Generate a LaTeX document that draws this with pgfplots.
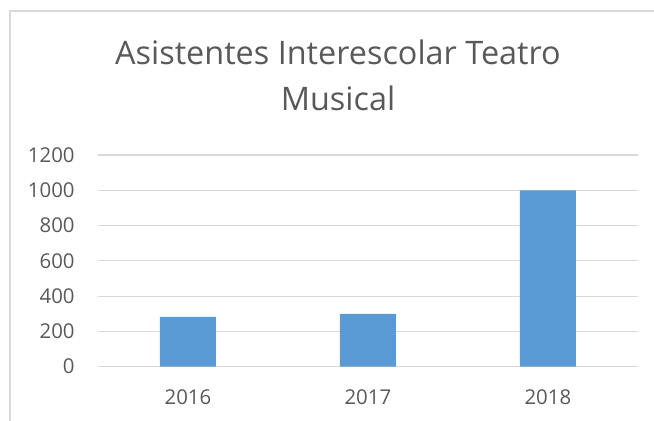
\documentclass[border=0pt]{standalone}
\usepackage{pgfplots}
\pgfplotsset{compat=1.18}
\usepackage{fontspec}
\setmainfont{Open Sans}
\definecolor{barblue}{HTML}{5B9BD5}
\definecolor{gridgray}{HTML}{D9D9D9}
\definecolor{textgray}{HTML}{595959}
\begin{document}
\begin{tikzpicture}
\path[use as bounding box] (0,0) rectangle (327pt,210.5pt);
% chart frame (only left and top edges are visible)
\draw[gridgray, line width=0.6pt] (5pt,0) -- (5pt,205pt) -- (327pt,205pt);
% title
\node[anchor=base, text=textgray, font=\fontsize{16.2}{19}\selectfont] at (169pt,178pt) {Asistentes Interescolar Teatro};
\node[anchor=base, text=textgray, font=\fontsize{16.2}{19}\selectfont] at (169pt,155pt) {Musical};
\begin{axis}[at={(49pt,27.15pt)}, anchor=south west, scale only axis,
    width=269.9pt, height=105.85pt,
    xmin=-0.5, xmax=2.5, ymin=0, ymax=1200,
    ytick={0,200,...,1200},
    xtick={0,1,2}, xticklabels={2016,2017,2018},
    axis x line*=bottom, axis y line*=left,
    x axis line style={gridgray, line width=0.7pt},
    y axis line style={draw=none},
    major tick length=0pt,
    ymajorgrids, grid style={gridgray, line width=0.6pt},
    ticklabel style={font=\fontsize{10.2}{12}\selectfont, text=textgray},
    yticklabel style={anchor=east, inner sep=0pt, xshift=-11.5pt},
    xticklabel style={anchor=base, inner sep=0pt, yshift=-19.15pt},
    /pgf/number format/assume math mode=true,
    /pgf/number format/1000 sep={}]
\addplot[ybar, bar width=28pt, fill=barblue, draw=none] coordinates {(0,283) (1,300) (2,1000)};
\end{axis}
\end{tikzpicture}
\end{document}
